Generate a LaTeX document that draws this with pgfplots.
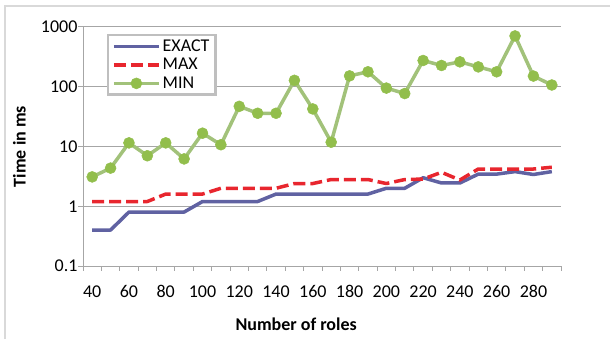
\documentclass[border=0pt]{standalone}
\usepackage{pgfplots}
\pgfplotsset{compat=1.18}
\usepackage{fontspec}
\setmainfont{Carlito}
\definecolor{cexact}{RGB}{96,98,162}
\definecolor{cmax}{RGB}{232,38,46}
\definecolor{cminl}{RGB}{162,194,122}
\definecolor{cminm}{RGB}{146,190,76}
\definecolor{gridc}{RGB}{166,166,166}
\definecolor{framec}{RGB}{217,217,217}
\definecolor{legc}{RGB}{191,191,191}
\newcommand\fs{\fontsize{18bp}{21bp}\selectfont}
\pgfplotstableread{
x exact max min
40 0.4 1.2 3.1
50 0.4 1.2 4.35
60 0.8 1.2 11.5
70 0.8 1.2 7.0
80 0.8 1.6 11.5
90 0.8 1.6 6.2
100 1.2 1.6 16.7
110 1.2 2.0 10.7
120 1.2 2.0 47
130 1.2 2.0 36
140 1.6 2.0 36
150 1.6 2.4 128
160 1.6 2.4 42.5
170 1.6 2.8 11.8
180 1.6 2.8 152
190 1.6 2.8 178
200 2.0 2.4 95
210 2.0 2.8 77
220 3.0 2.85 275
230 2.45 3.7 227
240 2.45 2.75 261
250 3.45 4.2 215
260 3.45 4.2 178
270 3.8 4.2 708
280 3.4 4.2 151
290 3.8 4.5 107
}\datatable
\begin{document}
\begin{tikzpicture}[x=1bp,y=1bp]
\useasboundingbox (0,0) rectangle (610,339);
\draw[framec, line width=1.5bp] (5,0) -- (5,333) -- (610,333);
\begin{axis}[
  at={(83bp,73bp)}, anchor=south west,
  scale only axis, width=478bp, height=239bp,
  xmin=35, xmax=295,
  ymode=log, ymin=0.1, ymax=1000,
  axis x line*=bottom, axis y line*=left,
  axis line style={gridc, line width=1bp, -},
  tick align=outside,
  xtick={35,45,...,295}, xticklabels={},
  extra x ticks={40,60,...,280},
  extra x tick labels={40,60,80,100,120,140,160,180,200,220,240,260,280},
  extra x tick style={major tick length=0pt, grid=none},
  ytick={0.1,1,10,100,1000},
  yticklabels={0.1,1,10,100,1000},
  major tick length=5bp,
  tick style={gridc, line width=1bp},
  ymajorgrids, major grid style={gridc, line width=1bp},
  minor y tick num=0, yminorticks=false,
  ticklabel style={font=\fs, text=black},
  xticklabel style={yshift=-16bp},
  yticklabel style={xshift=3bp},
  xlabel={\bfseries Number of roles},
  ylabel={\bfseries Time in ms},
  label style={font=\fs},
  xlabel style={at={(axis description cs:0.446,-0.243)}, anchor=center},
  ylabel style={at={(axis description cs:-0.133,0.5)}, anchor=center},
  legend style={at={(axis description cs:0.05,0.971)}, anchor=north west,
    draw=legc, line width=2.5bp, fill=white, font=\fs,
    inner xsep=4bp, inner ysep=2.5bp, row sep=1.5bp},
  legend cell align=left,
  legend image code/.code={\draw[mark repeat=2,mark phase=2,#1] plot coordinates {(0bp,0bp) (22.5bp,0bp) (45bp,0bp)};},
  clip=false,
]
\addplot[cexact, line width=3.5bp, line join=round] table[x=x,y=exact] {\datatable};
\addlegendentry{EXACT}
\addplot[cmax, line width=3.5bp, dash pattern=on 12bp off 5bp, line join=round] table[x=x,y=max] {\datatable};
\addlegendentry{MAX}
\addplot[cminl, line width=3.5bp, line join=round, mark=*, mark size=5.5bp, mark options={solid, fill=cminm, draw=cminm, line width=0.5bp}] table[x=x,y=min] {\datatable};
\addlegendentry{MIN}
\end{axis}
\end{tikzpicture}
\end{document}
